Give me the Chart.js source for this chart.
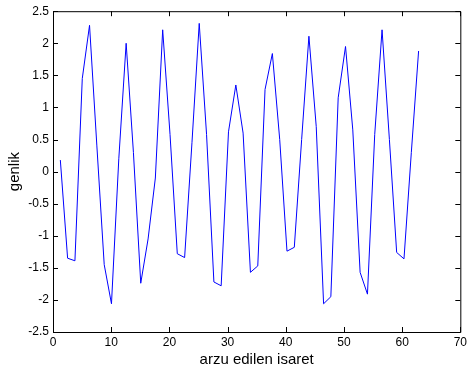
<!DOCTYPE html>
<html>
  <head>
    <title>arzu edilen isaret</title>
    <script src="https://cdn.jsdelivr.net/npm/chart.js"></script>
    <style>
      body,
      html {
        margin: 0;
        width: 100%;
        height: 100%;
        overflow: hidden;
        background-color: white;
      }
      div {
        width: 470px;
        height: 374px;
      }
    </style>
  </head>
  <body>
    <div>
      <canvas id="chartCanvas"></canvas>
    </div>
    <script>
      // sample positions (one sample every 2*pi/5)
      var xValues = [
        1.26, 2.51, 3.77, 5.03, 6.28, 7.54, 8.8, 10.05, 11.31, 12.57,
        13.82, 15.08, 16.34, 17.59, 18.85, 20.11, 21.36, 22.62, 23.88, 25.13,
        26.39, 27.65, 28.9, 30.16, 31.42, 32.67, 33.93, 35.19, 36.44, 37.7,
        38.96, 40.21, 41.47, 42.73, 43.98, 45.24, 46.5, 47.75, 49.01, 50.27,
        51.52, 52.78, 54.04, 55.29, 56.55, 57.81, 59.06, 60.32, 61.58, 62.83,
      ];

      // desired signal amplitude
      var genlik = [
        0.18, -1.35, -1.39, 1.45, 2.28, 0.4, -1.45, -2.06, 0.2, 2.0,
        0.3, -1.74, -1.05, -0.1, 2.21, 0.58, -1.28, -1.34, 0.45, 2.31,
        0.58, -1.72, -1.78, 0.62, 1.35, 0.6, -1.57, -1.47, 1.28, 1.84,
        0.5, -1.24, -1.18, 0.5, 2.11, 0.7, -2.06, -1.95, 1.15, 1.95,
        0.65, -1.57, -1.91, 0.58, 2.21, 0.5, -1.26, -1.36, 0.3, 1.88,
      ];

      var xTicks = [0, 10, 20, 30, 40, 50, 60, 70];
      var yTicks = [-2.5, -2, -1.5, -1, -0.5, 0, 0.5, 1, 1.5, 2, 2.5];

      var points = xValues.map(function (x, i) {
        return { x: x, y: genlik[i] };
      });

      // matlab style box with ticks pointing inward on all four sides
      var boxPlugin = {
        id: "box",
        afterDraw: function (chart) {
          var ctx = chart.ctx;
          var a = chart.chartArea;
          var xs = chart.scales.x;
          var ys = chart.scales.y;
          var len = 5;
          ctx.save();
          ctx.strokeStyle = "black";
          ctx.lineWidth = 1;
          ctx.beginPath();
          ctx.rect(a.left + 0.5, a.top + 0.5, a.right - a.left, a.bottom - a.top);
          xTicks.forEach(function (v) {
            var px = Math.round(xs.getPixelForValue(v)) + 0.5;
            ctx.moveTo(px, a.bottom);
            ctx.lineTo(px, a.bottom - len);
            ctx.moveTo(px, a.top);
            ctx.lineTo(px, a.top + len);
          });
          yTicks.forEach(function (v) {
            var py = Math.round(ys.getPixelForValue(v)) + 0.5;
            ctx.moveTo(a.left, py);
            ctx.lineTo(a.left + len, py);
            ctx.moveTo(a.right, py);
            ctx.lineTo(a.right - len, py);
          });
          ctx.stroke();
          ctx.restore();
        },
      };

      var ctx = document.getElementById("chartCanvas");

      var chart = new Chart(ctx, {
        type: "scatter",
        data: {
          datasets: [
            {
              label: "genlik",
              data: points,
              showLine: true,
              borderColor: "rgb(0, 0, 255)",
              backgroundColor: "rgb(0, 0, 255)",
              borderWidth: 1,
              pointRadius: 0,
              tension: 0,
            },
          ],
        },
        options: {
          animation: false,
          responsive: true,
          maintainAspectRatio: false,
          layout: {
            padding: { left: 0, right: 7, top: 11, bottom: 0 },
          },
          scales: {
            x: {
              type: "linear",
              min: 0,
              max: 70,
              afterBuildTicks: function (scale) {
                scale.ticks = xTicks.map(function (v) {
                  return { value: v };
                });
              },
              afterFit: function (scale) {
                scale.height = 42;
              },
              grid: { display: false, drawTicks: false },
              border: { display: false },
              ticks: {
                color: "black",
                padding: 3,
                maxRotation: 0,
                font: { family: "Arial, 'Liberation Sans'", size: 12 },
                callback: function (v) {
                  return String(v);
                },
              },
              title: {
                display: true,
                text: "arzu edilen isaret",
                color: "black",
                font: { family: "Arial, 'Liberation Sans'", size: 15 },
                padding: { top: 0, bottom: 5 },
              },
            },
            y: {
              type: "linear",
              min: -2.5,
              max: 2.5,
              afterBuildTicks: function (scale) {
                scale.ticks = yTicks.map(function (v) {
                  return { value: v };
                });
              },
              afterFit: function (scale) {
                scale.width = 53;
              },
              grid: { display: false, drawTicks: false },
              border: { display: false },
              ticks: {
                color: "black",
                padding: 4,
                font: { family: "Arial, 'Liberation Sans'", size: 12 },
                callback: function (v) {
                  return String(v);
                },
              },
              title: {
                display: true,
                text: "genlik",
                color: "black",
                font: { family: "Arial, 'Liberation Sans'", size: 15 },
                padding: { top: 6, bottom: 0 },
              },
            },
          },
          plugins: {
            legend: { display: false },
            tooltip: { enabled: false },
          },
        },
        plugins: [boxPlugin],
      });
    </script>
  </body>
</html>
